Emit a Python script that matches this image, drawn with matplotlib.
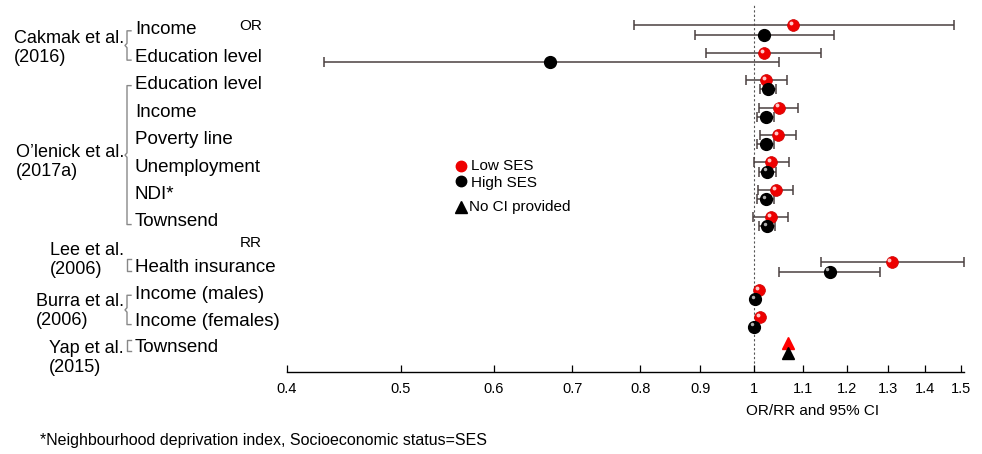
import numpy as np
import matplotlib.pyplot as plt
from matplotlib.transforms import blended_transform_factory, offset_copy

plt.rcParams['font.family'] = ['Liberation Sans', 'DejaVu Sans']

# outcome rows, top to bottom
row_labels = ["Income", "Education level", "Education level", "Income", "Poverty line",
              "Unemployment", "NDI*", "Townsend", "Health insurance", "Income (males)",
              "Income (females)", "Townsend"]

# low SES estimates and CI (nan = no CI shown)
low_est = [1.08, 1.02, 1.024, 1.05, 1.048, 1.034, 1.044, 1.034, 1.31, 1.01, 1.012, 1.07]
low_lo = [0.79, 0.91, 0.985, 1.01, 1.012, 1.0, 1.008, 0.998, 1.14, np.nan, np.nan, np.nan]
low_hi = [1.48, 1.14, 1.067, 1.09, 1.086, 1.071, 1.08, 1.069, 1.51, np.nan, np.nan, np.nan]

# high SES estimates and CI
high_est = [1.02, 0.67, 1.028, 1.024, 1.024, 1.026, 1.024, 1.026, 1.16, 1.002, 1.0, 1.07]
high_lo = [0.89, 0.43, 1.012, 1.006, 1.006, 1.01, 1.006, 1.01, 1.05, np.nan, np.nan, np.nan]
high_hi = [1.17, 1.05, 1.044, 1.04, 1.04, 1.044, 1.04, 1.042, 1.28, np.nan, np.nan, np.nan]

# rows with no CI provided (triangles)
no_ci = [False] * 11 + [True]
# black balls drawn with a shine
high_shiny = [False, False, False, False, False, True, True, True, True, True, True, False]

studies = ["Cakmak et al.\n(2016)", "O\u2019lenick et al.\n(2017a)", "Lee et al.\n(2006)",
           "Burra et al.\n(2006)", "Yap et al.\n(2015)"]
study_first = [0, 2, 8, 9, 11]
study_last = [1, 7, 8, 10, 11]

xticks = [0.4, 0.5, 0.6, 0.7, 0.8, 0.9, 1.0, 1.1, 1.2, 1.3, 1.4, 1.5]
xtick_labels = ["0.4", "0.5", "0.6", "0.7", "0.8", "0.9", "1", "1.1", "1.2", "1.3", "1.4", "1.5"]

# layout
W, H = 982, 454
row_pos = np.array([0, 1, 2, 3, 4, 5, 6, 7, 8.65, 9.65, 10.65, 11.6])
study_y = [0.66, 4.82, 8.4, 10.25, 11.97]
off = 0.17
ebar_col = '#4a4040'

fig = plt.figure(figsize=(W / 100, H / 100), dpi=100)
ax = fig.add_axes([287 / W, 1 - 372 / H, (964 - 287) / W, (372 - 5) / H])
ax.set_xscale('log')
ax.set_xlim(0.4, 1.51)
ax.set_ylim(12.48, -0.912)

ax.axvline(1.0, color='#555555', lw=0.8, ls=(0, (2, 2)), zorder=1)

hl = offset_copy(ax.transData, fig=fig, x=-1.6, y=1.6, units='points')

for i in range(len(row_labels)):
    yl = row_pos[i] - off
    yh = row_pos[i] + off
    if no_ci[i]:
        ax.plot(low_est[i], yl, marker='^', ms=9, color='red', ls='none', zorder=4)
        ax.plot(high_est[i], yh, marker='^', ms=9, color='black', ls='none', zorder=4)
        continue
    if not np.isnan(low_lo[i]):
        ax.errorbar(low_est[i], yl, xerr=[[low_est[i] - low_lo[i]], [low_hi[i] - low_est[i]]],
                    fmt='none', ecolor=ebar_col, elinewidth=1.1, capsize=3.5, capthick=1.1,
                    zorder=2, clip_on=False)
    if not np.isnan(high_lo[i]):
        ax.errorbar(high_est[i], yh, xerr=[[high_est[i] - high_lo[i]], [high_hi[i] - high_est[i]]],
                    fmt='none', ecolor=ebar_col, elinewidth=1.1, capsize=3.5, capthick=1.1,
                    zorder=2, clip_on=False)
    ax.plot(low_est[i], yl, 'o', ms=8.5, color='#ee0000', mec='#cc0000', mew=0.5, zorder=3)
    ax.plot(low_est[i], yl, 'o', ms=2.8, color='#ffc8c8', mec='none', transform=hl, zorder=3)
    ax.plot(high_est[i], yh, 'o', ms=8.5, color='black', zorder=4)
    if high_shiny[i]:
        ax.plot(high_est[i], yh, 'o', ms=2.5, color='#b0b0b0', mec='none', transform=hl, zorder=4)

for s in ['left', 'top', 'right']:
    ax.spines[s].set_visible(False)
ax.spines['bottom'].set_linewidth(1.0)
ax.set_yticks([])
ax.set_xticks(xticks)
ax.set_xticklabels(xtick_labels)
ax.minorticks_off()
ax.tick_params(axis='x', direction='in', length=5, width=0.9, labelsize=10.5, pad=7)

# row labels, study names and brackets
tr = blended_transform_factory(fig.transFigure, ax.transData)
for i, lab in enumerate(row_labels):
    ax.text(135 / W, row_pos[i], lab, transform=tr, fontsize=13.5, va='center', ha='left', clip_on=False)

for k, name in enumerate(studies):
    ax.text(124 / W, study_y[k], name, transform=tr, fontsize=13, va='center', ha='right',
            multialignment='left', linespacing=1.15, clip_on=False)
    a, b = study_first[k], study_last[k]
    if a == b:
        y0, y1 = row_pos[a] - 0.3, row_pos[a] + 0.13
        xs = np.array([131, 127, 127, 131]) / W
        ys = [y0, y0, y1, y1]
    else:
        y0, y1 = row_pos[a] + 0.03, row_pos[b] + 0.1
        ym = (y0 + y1) / 2
        xs = np.array([131, 127, 127, 125, 127, 127, 131]) / W
        ys = [y0, y0, ym - 0.08, ym, ym + 0.08, y1, y1]
    ax.plot(xs, ys, color='#888888', lw=1.0, transform=tr, clip_on=False)

fig.text(251 / W, 1 - 26 / H, "OR", fontsize=11, ha='center', va='center')
fig.text(251 / W, 1 - 243 / H, "RR", fontsize=11, ha='center', va='center')

# legend
fig.lines.append(plt.Line2D([461 / W], [1 - 166 / H], marker='o', ms=7.5, color='#ee0000',
                            transform=fig.transFigure))
fig.lines.append(plt.Line2D([461 / W], [1 - 181 / H], marker='o', ms=7.5, color='black',
                            transform=fig.transFigure))
fig.lines.append(plt.Line2D([461 / W], [1 - 207 / H], marker='^', ms=8, color='black',
                            transform=fig.transFigure))
fig.text(471 / W, 1 - 166 / H, "Low SES", fontsize=11, va='center')
fig.text(471 / W, 1 - 183 / H, "High SES", fontsize=11, va='center')
fig.text(469 / W, 1 - 207 / H, "No CI provided", fontsize=11, va='center')

fig.text(813 / W, 1 - 411 / H, "OR/RR and 95% CI", fontsize=11, ha='center', va='center')
fig.text(40 / W, 1 - 440 / H, "*Neighbourhood deprivation index, Socioeconomic status=SES",
         fontsize=11.5, ha='left', va='center')

fig.savefig('out.png', dpi=100)
